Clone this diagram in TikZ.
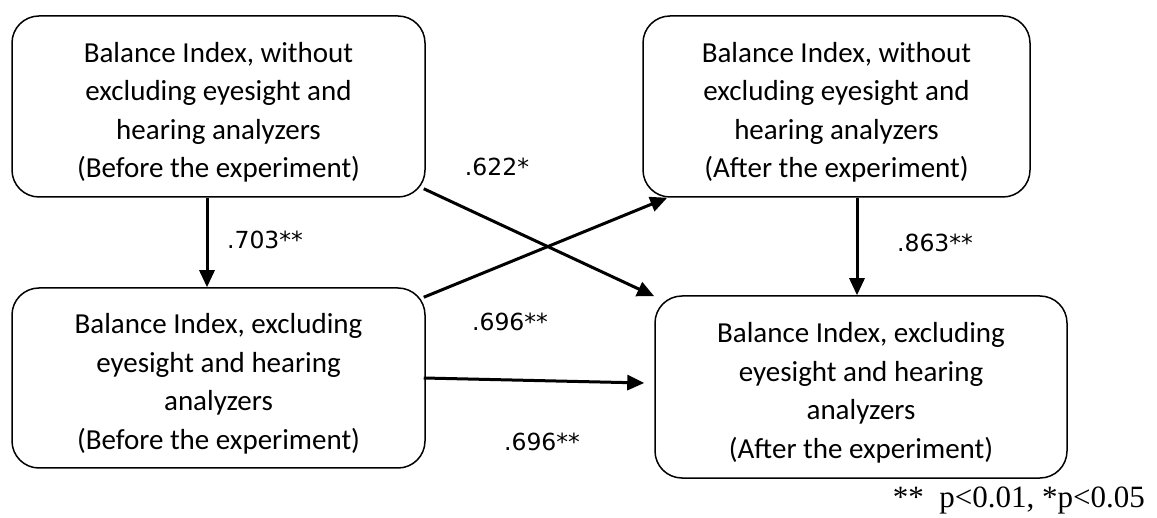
\documentclass[tikz,border=0pt]{standalone}
\usepackage{fontspec}
\setmainfont{Carlito}
\newfontfamily\labfont{DejaVu Sans}
\newfontfamily\notefont{Liberation Serif}
\usetikzlibrary{arrows.meta}
\newcommand\mydrop{\rule{0pt}{32pt}}
\begin{document}
\begin{tikzpicture}[x=1pt,y=-1pt,
  box/.style={draw, line width=1.5pt, rounded corners=27pt, align=center,
    font=\fontsize{29}{38.5}\selectfont, inner sep=0pt},
  arr/.style={line width=3pt, -{Triangle[length=17pt,width=15pt]}},
  lab/.style={font=\labfont\fontsize{23.5}{27}\selectfont, inner sep=0pt}]
\useasboundingbox (0,0) rectangle (1157,518);
\node[box, minimum width=413pt, minimum height=181pt] (A) at (218.5,106.5)
  {\mydrop Balance Index, without\\excluding eyesight and\\hearing analyzers\\(Before the experiment)};
\node[box, minimum width=387pt, minimum height=181pt] (B) at (836.5,106.5)
  {\mydrop Balance Index, without\\excluding eyesight and\\hearing analyzers\\(After the experiment)};
\node[box, minimum width=413pt, minimum height=180pt] (C) at (218.5,378)
  {\mydrop Balance Index, excluding\\eyesight and hearing\\analyzers\\(Before the experiment)};
\node[box, minimum width=412pt, minimum height=182pt] (D) at (861,387)
  {\mydrop Balance Index, excluding\\eyesight and hearing\\analyzers\\(After the experiment)};
\draw[arr] ([xshift=-11.5pt]A.south) -- ([xshift=-11.5pt]C.north);
\draw[arr] ([xshift=-2pt,yshift=9pt]A.south east) -- ([yshift=-1pt]D.north west);
\draw[arr] ([xshift=-2pt,yshift=-10pt]C.north east) -- ([xshift=25pt]B.south west);
\draw[arr] ([xshift=-2pt]C.east) -- ([xshift=-10pt,yshift=4pt]D.west);
\draw[arr] ([xshift=20.5pt]B.south) -- ([xshift=20.5pt]B.south |- D.north);
\node[lab] (l1) at (497,167) {.622*};
\node[lab] (l2) at (265,240) {.703**};
\node[lab] (l3) at (510,322) {.696**};
\node[lab] (l4) at (542,442) {.696**};
\node[lab] (l5) at (935,243) {.863**};
\node[font=\notefont\fontsize{31}{34}\selectfont, inner sep=0pt, anchor=east] (n) at (1145,500) {**\ \ p<0.01, *p<0.05};
\end{tikzpicture}
\end{document}
